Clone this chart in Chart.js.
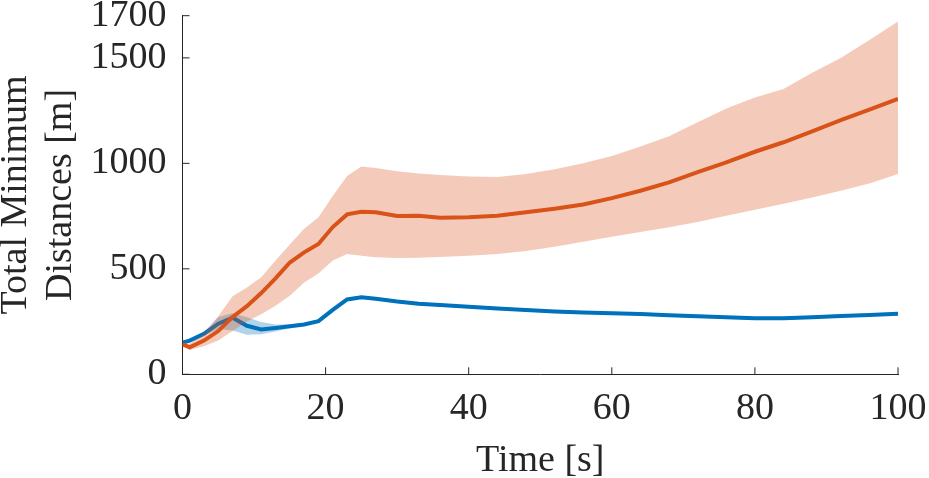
<!DOCTYPE html>
<html>
<head>
<meta charset="utf-8">
<script src="https://cdn.jsdelivr.net/npm/chart.js@4"></script>
<style>
  body { margin: 0; background: #fff; }
  #wrap { width: 929px; height: 478px; }
</style>
</head>
<body>
<div id="wrap"><canvas id="myChart"></canvas></div>
<script>
// Tiempo [s]
const time = [0, 1, 3, 5, 7, 9, 11, 13, 15, 17, 19, 21, 23, 25, 27, 30, 33, 36, 40, 44, 48, 52, 56, 60, 64, 68, 72, 76, 80, 84, 88, 92, 96, 100];

// Serie naranja: media y banda
const orangeMean = [142, 128, 160, 205, 272, 323, 385, 455, 530, 578, 618, 698, 758, 770, 768, 750, 752, 742, 745, 752, 768, 785, 805, 835, 870, 910, 958, 1005, 1055, 1100, 1152, 1205, 1255, 1306];
const orangeUpper = [150, 145, 190, 275, 370, 412, 460, 540, 615, 690, 745, 845, 940, 985, 978, 962, 952, 945, 938, 935, 950, 972, 1000, 1035, 1080, 1128, 1195, 1260, 1312, 1353, 1430, 1500, 1585, 1672];
const orangeLower = [135, 115, 133, 160, 205, 250, 285, 325, 372, 435, 478, 540, 570, 562, 555, 551, 553, 556, 562, 570, 585, 605, 628, 652, 675, 697, 722, 752, 780, 808, 838, 870, 905, 950];

// Serie azul: media y banda
const blueMean = [150, 160, 192, 240, 268, 230, 213, 220, 228, 236, 252, 305, 355, 365, 358, 345, 335, 328, 320, 312, 305, 298, 293, 290, 286, 280, 275, 270, 266, 266, 270, 276, 281, 287];
const blueUpper = [158, 168, 200, 272, 290, 270, 248, 236, 236, 243, 259, 312, 362, 372, 365, 352, 342, 335, 327, 319, 312, 305, 300, 297, 293, 287, 282, 277, 273, 273, 277, 283, 288, 294];
const blueLower = [142, 152, 184, 215, 208, 188, 190, 203, 218, 229, 245, 298, 348, 358, 351, 338, 328, 321, 313, 305, 298, 291, 286, 283, 279, 273, 268, 263, 259, 259, 263, 269, 274, 280];

// Marcas de los ejes
const xTicks = [0, 20, 40, 60, 80, 100];
const yTicks = [0, 500, 1000, 1500, 1700];

const axisColor = '#262626';
const fontFamily = "'Liberation Serif', 'Times New Roman', serif";

function puntos(values) {
    return values.map((v, i) => ({ x: time[i], y: v }));
}

// Marcas hacia adentro, como en MATLAB
const inwardTicks = {
    id: 'inwardTicks',
    afterDraw(chart) {
        const { ctx, chartArea, scales } = chart;
        const len = 7;
        ctx.save();
        ctx.strokeStyle = axisColor;
        ctx.lineWidth = 1;
        ctx.beginPath();
        scales.x.ticks.forEach(t => {
            const px = scales.x.getPixelForValue(t.value);
            ctx.moveTo(px, chartArea.bottom);
            ctx.lineTo(px, chartArea.bottom - len);
        });
        scales.y.ticks.forEach(t => {
            const py = scales.y.getPixelForValue(t.value);
            ctx.moveTo(chartArea.left, py);
            ctx.lineTo(chartArea.left + len, py);
        });
        ctx.stroke();
        ctx.restore();
    }
};

let ctx = document.getElementById('myChart').getContext('2d');
let graficoChart = new Chart(ctx, {
    type: 'line',
    data: {
        datasets: [
            {
                data: puntos(orangeMean),
                borderColor: '#D95319',
                borderWidth: 4,
                pointRadius: 0,
                fill: false,
                order: 0
            },
            {
                data: puntos(orangeUpper),
                borderColor: 'rgba(0,0,0,0)',
                borderWidth: 0,
                pointRadius: 0,
                backgroundColor: 'rgba(217, 83, 25, 0.3)',
                fill: '+1',
                order: 1
            },
            {
                data: puntos(orangeLower),
                borderColor: 'rgba(0,0,0,0)',
                borderWidth: 0,
                pointRadius: 0,
                fill: false,
                order: 1
            },
            {
                data: puntos(blueMean),
                borderColor: '#0072BD',
                borderWidth: 4,
                pointRadius: 0,
                fill: false,
                order: 2
            },
            {
                data: puntos(blueUpper),
                borderColor: 'rgba(0,0,0,0)',
                borderWidth: 0,
                pointRadius: 0,
                backgroundColor: 'rgba(0, 114, 189, 0.3)',
                fill: '+1',
                order: 3
            },
            {
                data: puntos(blueLower),
                borderColor: 'rgba(0,0,0,0)',
                borderWidth: 0,
                pointRadius: 0,
                fill: false,
                order: 3
            }
        ]
    },
    options: {
        responsive: true,
        maintainAspectRatio: false,
        animation: false,
        layout: { padding: { left: 0, right: 31, top: 0, bottom: 0 } },
        plugins: {
            legend: { display: false },
            tooltip: { enabled: false }
        },
        scales: {
            x: {
                type: 'linear',
                min: 0,
                max: 100,
                afterBuildTicks: scale => { scale.ticks = xTicks.map(v => ({ value: v })); },
                afterFit: scale => { scale.height = 103.7; },
                grid: { display: true, drawOnChartArea: false, drawTicks: true, tickLength: 12, tickColor: 'rgba(0,0,0,0)' },
                border: { display: true, color: axisColor, width: 1 },
                ticks: {
                    color: axisColor,
                    padding: 0,
                    maxRotation: 0,
                    callback: value => value.toString(),
                    font: { family: fontFamily, size: 38, lineHeight: 1.2 }
                },
                title: {
                    display: true,
                    text: 'Time [s]',
                    color: axisColor,
                    padding: { top: 0, bottom: 0 },
                    font: { family: fontFamily, size: 38, lineHeight: 0.88 }
                }
            },
            y: {
                type: 'linear',
                min: 0,
                max: 1700,
                afterBuildTicks: scale => { scale.ticks = yTicks.map(v => ({ value: v })); },
                afterFit: scale => { scale.width = 182.5; },
                grid: { display: true, drawOnChartArea: false, drawTicks: true, tickLength: 16, tickColor: 'rgba(0,0,0,0)' },
                border: { display: true, color: axisColor, width: 1 },
                ticks: {
                    color: axisColor,
                    padding: 0,
                    callback: value => value.toString(),
                    font: { family: fontFamily, size: 38, lineHeight: 0.826 }
                },
                title: {
                    display: true,
                    text: ['Total Minimum', 'Distances [m]'],
                    color: axisColor,
                    padding: { top: -7, bottom: 6 },
                    font: { family: fontFamily, size: 38, lineHeight: 1.2 }
                }
            }
        }
    },
    plugins: [inwardTicks]
});
</script>
</body>
</html>
